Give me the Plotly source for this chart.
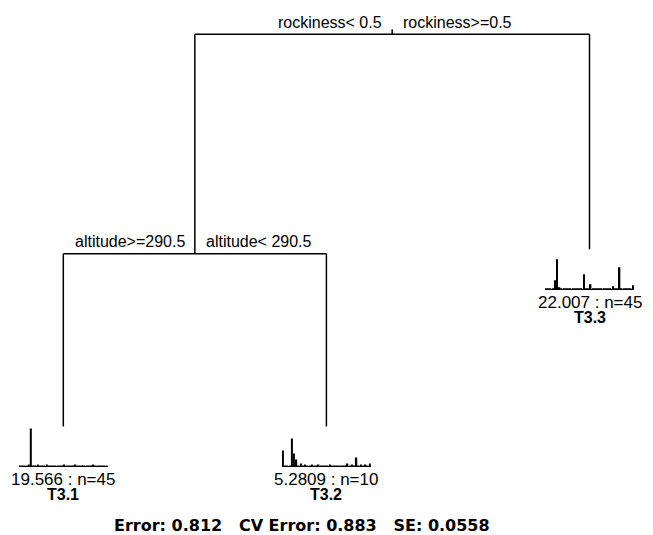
import plotly.graph_objects as go

# ---------------- data ----------------
# tree structure (rpart-style node numbering)
node_ids = [1, 2, 3, 4, 5]
node_parent = [None, 1, 1, 2, 2]
node_depth = [0, 1, 1, 2, 2]
node_is_leaf = [False, False, True, True, True]
leaf_order = [4, 5, 3]                       # left-to-right order of leaves
split_left_labels = {1: "rockiness< 0.5", 2: "altitude>=290.5"}
split_right_labels = {1: "rockiness>=0.5", 2: "altitude< 290.5"}
depth_rel_error = [1.0, 0.896, 0.812]        # relative error reached at each tree depth

leaf_names = {4: "T3.1", 5: "T3.2", 3: "T3.3"}
leaf_dev = {4: "19.566", 5: "5.2809", 3: "22.007"}
leaf_n = {4: 45, 5: 10, 3: 45}

n_species = 40
species = list(range(1, n_species + 1))
def sp(d):
    v = [0.4] * n_species
    for k, val in d.items():
        v[k] = val
    return v

leaf_species_means = {
    4: sp({1: 1.0, 4: 1.5, 5: 38, 6: 1.0, 8: 1.5, 9: 1.0, 12: 1.5, 13: 1.0, 16: 1.0,
           20: 1.5, 21: 1.0, 23: 1.0, 25: 1.5, 29: 1.0, 30: 1.0, 33: 1.5, 37: 1.0, 39: 1.0}),
    5: sp({0: 16, 4: 28, 5: 13, 6: 7, 8: 3, 10: 2, 13: 1.5, 16: 1.5, 21: 2, 25: 1,
           29: 3, 31: 2, 33: 9, 35: 2, 37: 1.5, 39: 3}),
    3: sp({4: 9, 5: 30, 6: 2, 10: 1, 17: 15, 20: 5, 23: 1, 30: 3, 33: 22, 39: 4}),
}
bar_axis_max = 40

footer_text = "Error: 0.812   CV Error: 0.883   SE: 0.0558"

# ---------------- layout constants (pixels) ----------------
W, H = 653, 535
leaf1_px = 63.3
leaf_gap_px = 263.1
root_px = 34.3
px_per_err = 2110.0
tick_px = 5
inset_w = 89
inset_h = 40
inset_gap = 35.5
lab1_gap = 49
lab2_gap = 63.5
TXT = "Liberation Sans"

# ---------------- tree coordinates ----------------
nx = {}
for i, leaf in enumerate(leaf_order):
    nx[leaf] = i + 1
children = {nid: [c for c, p in zip(node_ids, node_parent) if p == nid] for nid in node_ids}
def get_x(nid):
    if nid in nx:
        return nx[nid]
    cx = [get_x(c) for c in children[nid]]
    nx[nid] = (min(cx) + max(cx)) / 2
    return nx[nid]
for nid in node_ids:
    get_x(nid)
depth = dict(zip(node_ids, node_depth))
ny = {nid: depth_rel_error[depth[nid]] for nid in node_ids}

xr = [1 - leaf1_px / leaf_gap_px, 1 + (W - leaf1_px) / leaf_gap_px]
yr = [1 - (H - root_px) / px_per_err, 1 + root_px / px_per_err]

def to_px_x(x):
    return leaf1_px + (x - 1) * leaf_gap_px
def to_px_y(e):
    return root_px + (1 - e) * px_per_err

lx, ly = [], []
# root tick
lx += [nx[1], nx[1], None]
ly += [ny[1], ny[1] + tick_px / px_per_err, None]
for nid, leaf in zip(node_ids, node_is_leaf):
    if leaf:
        continue
    ch = children[nid]
    cxs = [nx[c] for c in ch]
    lx += [min(cxs), max(cxs), None]
    ly += [ny[nid], ny[nid], None]
    for c in ch:
        lx += [nx[c], nx[c], None]
        ly += [ny[nid], ny[c], None]

fig = go.Figure()
fig.add_trace(go.Scatter(x=lx, y=ly, mode="lines",
                         line=dict(color="black", width=1.5),
                         hoverinfo="skip", showlegend=False))

annotations = []
for nid in node_ids:
    if nid in split_left_labels:
        annotations.append(dict(x=nx[nid], y=ny[nid], xref="x", yref="y",
                                text=split_left_labels[nid], showarrow=False, borderpad=0,
                                xanchor="right", yanchor="middle", xshift=-9, yshift=12,
                                font=dict(family=TXT, size=16, color="black")))
        annotations.append(dict(x=nx[nid], y=ny[nid], xref="x", yref="y",
                                text=split_right_labels[nid], showarrow=False, borderpad=0,
                                xanchor="left", yanchor="middle", xshift=10, yshift=12,
                                font=dict(family=TXT, size=16, color="black")))

layout_axes = {}
for k, leaf in enumerate(leaf_order):
    ax = k + 2
    cx = to_px_x(nx[leaf])
    base = to_px_y(ny[leaf]) + inset_gap
    layout_axes[f"xaxis{ax}"] = dict(domain=[(cx - inset_w / 2) / W, (cx + inset_w / 2) / W],
                                     anchor=f"y{ax}", range=[0.5, n_species + 0.5],
                                     showline=True, linecolor="black", linewidth=1,
                                     showticklabels=False, ticks="", showgrid=False,
                                     zeroline=False, fixedrange=True)
    layout_axes[f"yaxis{ax}"] = dict(domain=[1 - base / H, 1 - (base - inset_h) / H],
                                     anchor=f"x{ax}", range=[0, bar_axis_max],
                                     visible=False, fixedrange=True)
    fig.add_trace(go.Bar(x=species, y=leaf_species_means[leaf], xaxis=f"x{ax}", yaxis=f"y{ax}",
                         marker=dict(color="black", line=dict(width=0)), width=0.7,
                         showlegend=False, hoverinfo="skip"))
    annotations.append(dict(x=nx[leaf], y=ny[leaf], xref="x", yref="y",
                            text=f"{leaf_dev[leaf]} : n={leaf_n[leaf]}", showarrow=False,
                            borderpad=0, xanchor="center", yanchor="middle", yshift=-lab1_gap,
                            font=dict(family=TXT, size=17, color="black")))
    annotations.append(dict(x=nx[leaf], y=ny[leaf], xref="x", yref="y",
                            text=f"<b>{leaf_names[leaf]}</b>", showarrow=False,
                            borderpad=0, xanchor="center", yanchor="middle", yshift=-lab2_gap,
                            font=dict(family=TXT, size=16, color="black")))

annotations.append(dict(x=301.5 / W, y=1 - 525.5 / H, xref="paper", yref="paper",
                        text=f"<b>{footer_text.replace(' ', '&nbsp;')}</b>", showarrow=False,
                        borderpad=0, xanchor="center", yanchor="middle",
                        font=dict(family="DejaVu Sans", size=16, color="black")))

fig.update_layout(
    width=W, height=H, margin=dict(l=0, r=0, t=0, b=0),
    paper_bgcolor="white", plot_bgcolor="white",
    xaxis=dict(range=xr, visible=False, domain=[0, 1], fixedrange=True),
    yaxis=dict(range=yr, visible=False, domain=[0, 1], fixedrange=True),
    annotations=annotations, bargap=0.3,
    **layout_axes,
)

fig.write_html("out.html", config={"displayModeBar": False},
               post_script="document.body.style.margin='0';")
